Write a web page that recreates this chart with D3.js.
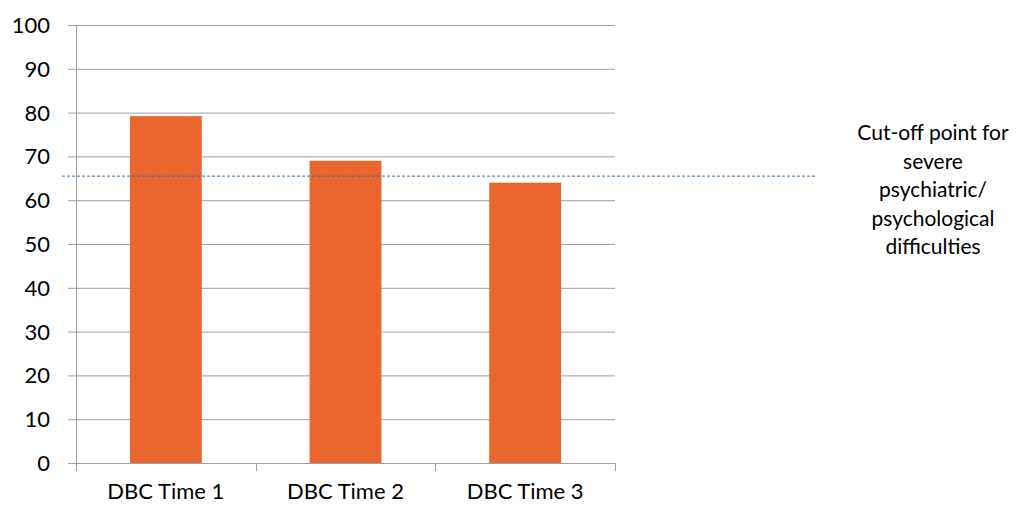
<!DOCTYPE html>
<html><head><meta charset="utf-8">
<script src="https://cdn.jsdelivr.net/npm/d3@7"></script>
<style>body{margin:0;background:#fff}svg{display:block}text{font-family:Lato,"Open Sans",sans-serif;fill:#000}</style>
</head><body>
<script>
const categories = ["DBC Time 1", "DBC Time 2", "DBC Time 3"];
const values = [79.2, 69, 64];
const cutoff = 65.5;
const yTicks = [0,10,20,30,40,50,60,70,80,90,100];
const noteLines = ["Cut-off point for", "severe", "psychiatric/", "psychological", "difficulties"];

const W = 1018, H = 506;
const svg = d3.select("body").append("svg").attr("width", W).attr("height", H);
const x = d3.scaleBand().domain(categories).range([76, 615]).paddingInner(0.6).paddingOuter(0.3);
const xb = d3.scaleBand().domain(categories).range([76, 615]);
const y = d3.scaleLinear().domain([0, 100]).range([463, 25]);
const grid = "#9f9f9f";

svg.append("g").selectAll("line").data(yTicks).join("line")
  .attr("x1", 68).attr("x2", 615).attr("y1", d => y(d)+0.5).attr("y2", d => y(d)+0.5)
  .attr("stroke", grid).attr("stroke-width", 1);
svg.append("line").attr("x1", 76.5).attr("x2", 76.5).attr("y1", y(100)).attr("y2", y(0))
  .attr("stroke", grid);
svg.append("g").selectAll("line").data(categories.map(c => xb(c)).concat([615])).join("line")
  .attr("x1", d => Math.round(d)+0.5).attr("x2", d => Math.round(d)+0.5).attr("y1", y(0)).attr("y2", y(0)+8)
  .attr("stroke", grid);
svg.append("g").selectAll("text").data(yTicks).join("text")
  .attr("x", 50).attr("y", d => y(d)).attr("dy", "0.36em").attr("text-anchor", "end")
  .style("font-size", "22px").text(d => d);
svg.append("g").selectAll("rect").data(values).join("rect")
  .attr("x", (d, i) => x(categories[i])).attr("width", x.bandwidth())
  .attr("y", d => y(d)).attr("height", d => y(0) - y(d))
  .attr("fill", "#eb652e");
svg.append("g").selectAll("text").data(categories).join("text")
  .attr("x", d => xb(d) + xb.bandwidth()/2).attr("y", 499).attr("text-anchor", "middle")
  .style("font-size", "22px").text(d => d);
svg.append("line").attr("x1", 62).attr("x2", 815).attr("y1", y(cutoff)).attr("y2", y(cutoff))
  .attr("stroke", "#2a72c0").attr("stroke-width", 1).attr("stroke-dasharray", "3,2");
svg.append("g").selectAll("text").data(noteLines).join("text")
  .attr("x", 933).attr("y", (d, i) => 140 + i*28.5).attr("text-anchor", "middle")
  .style("font-size", "21px").text(d => d);
</script>
</body></html>
